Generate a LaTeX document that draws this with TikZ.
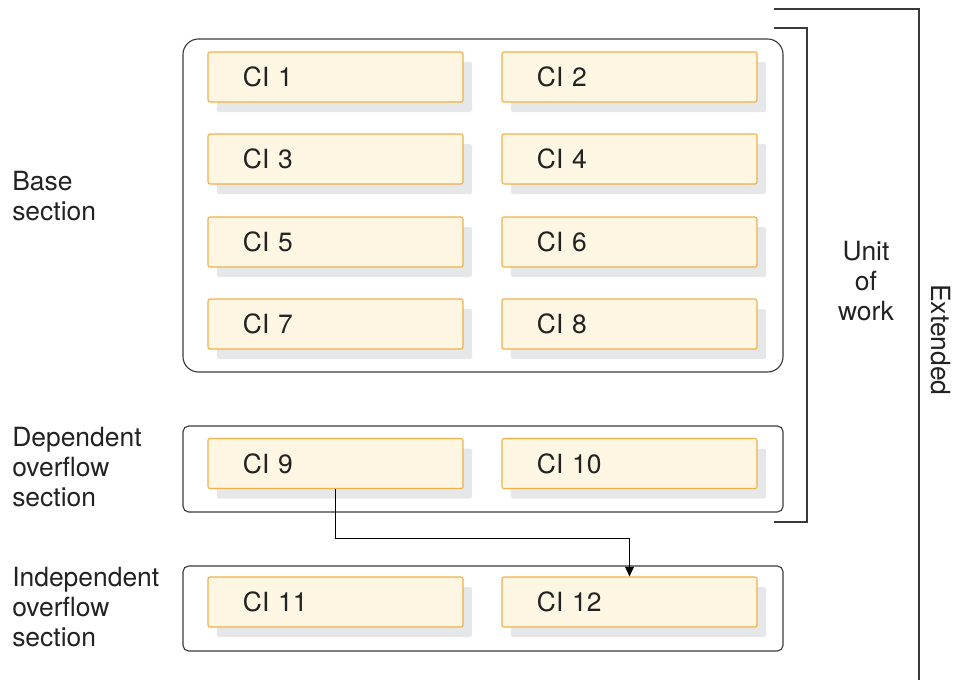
\documentclass[tikz,border=0pt]{standalone}
\usepackage{fontspec}
\setmainfont{TeX Gyre Heros}
\usepackage{tikz}
\usetikzlibrary{arrows.meta,positioning,shadows}
\definecolor{cifill}{HTML}{FDF6E2}
\definecolor{ciedge}{HTML}{F2B04C}
\definecolor{cishade}{HTML}{E6E7E9}
\definecolor{boxline}{HTML}{3A3A3A}
\definecolor{labeltext}{HTML}{222222}

\begin{document}
\begin{tikzpicture}[
  x=0.025cm, y=-0.025cm,
  font=\fontsize{18.8}{21.3}\selectfont, text=labeltext,
  ci/.style={draw=ciedge, fill=cifill, rounded corners=1.5pt, line width=0.8pt,
             minimum width=6.375cm, minimum height=1.25cm, inner xsep=0.875cm,
             text width=4.625cm, align=left,
             general shadow={fill=cishade, shadow xshift=0.225cm, shadow yshift=-0.25cm}},
  section/.style={draw=boxline, line width=0.8pt, rounded corners=4pt},
  bracket/.style={draw=boxline, line width=0.8pt},
  side/.style={align=left, anchor=west, inner sep=0pt},
  arrow/.style={-{Triangle[length=2.4mm, width=2.2mm]}, line width=0.7pt, draw=black}
]
\useasboundingbox (0,0) rectangle (960,680);

% section frames
\draw[section, rounded corners=11pt] (183,39) rectangle (783,372);
\draw[section] (183,426) rectangle (783,512);
\draw[section] (183,566) rectangle (783,651);

% cells
\node[ci] (ci1) at (335.5,77) {CI 1};
\node[ci] (ci2) at (629.5,77) {CI 2};
\node[ci] (ci3) at (335.5,159) {CI 3};
\node[ci] (ci4) at (629.5,159) {CI 4};
\node[ci] (ci5) at (335.5,242) {CI 5};
\node[ci] (ci6) at (629.5,242) {CI 6};
\node[ci] (ci7) at (335.5,324) {CI 7};
\node[ci] (ci8) at (629.5,324) {CI 8};
\node[ci] (ci9) at (335.5,463.5) {CI 9};
\node[ci] (ci10) at (629.5,463.5) {CI 10};
\node[ci] (ci11) at (335.5,602) {CI 11};
\node[ci] (ci12) at (629.5,602) {CI 12};

\draw[arrow] (ci9.south) -- ++(0,49.5) -| (ci12.north);

% side labels
\node[side] (base) at (12,196) {Base\\section};
\node[side] (dep) at (12,467) {Dependent\\overflow\\section};
\node[side] (indep) at (12,607) {Independent\\overflow\\section};

% brackets
\draw[bracket] (774,28) -- (807,28) -- (807,522) -- (774,522);
\draw[bracket] (774,9) -- (919,9) -- (919,680);
\node[align=center, inner sep=0pt] (unit) at (866,281) {Unit\\of\\work};
\node[rotate=-90, inner sep=0pt] (ext) at (941,340) {Extended};
\end{tikzpicture}
\end{document}
